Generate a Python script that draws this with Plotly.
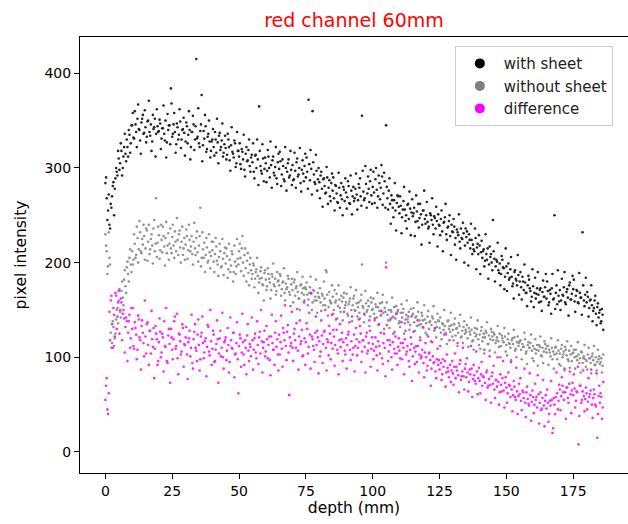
import numpy as np
import plotly.graph_objects as go

depth_step = 0.5
# pass A: samples at 0, 0.5, 1.0 ... mm
with_sheet = [
    284, 268, 255, 240, 262, 270, 285, 278, 300, 292,
    310, 305, 318, 300, 322, 315, 330, 312, 335, 326,
    345, 332, 360, 338, 352, 341, 329, 348, 356, 337,
    343, 333, 350, 338, 346, 328, 341, 352, 336, 344,
    339, 347, 331, 342, 336, 350, 327, 340, 345, 384,
    333, 346, 338, 325, 343, 335, 349, 330, 341, 337,
    328, 344, 335, 340, 322, 338, 346, 330, 415, 333,
    326, 339, 377, 324, 331, 344, 320, 336, 328, 318,
    330, 322, 338, 316, 327, 334, 319, 329, 312, 325,
    321, 314, 330, 308, 324, 317, 311, 326, 305, 318,
    312, 304, 320, 309, 298, 315, 307, 319, 302, 311,
    306, 296, 313, 300, 309, 365, 302, 294, 310, 299,
    305, 297, 312, 290, 303, 308, 295, 301, 289, 306,
    299, 307, 293, 302, 286, 300, 296, 309, 292, 298,
    303, 288, 297, 306, 291, 300, 284, 298, 294, 302,
    290, 296, 372, 287, 299, 360, 293, 283, 297, 288,
    285, 292, 278, 288, 281, 274, 290, 279, 270, 284,
    276, 268, 282, 273, 263, 279, 271, 267, 280, 265,
    274, 269, 281, 262, 276, 270, 265, 278, 272, 266,
    279, 270, 355, 275, 268, 283, 273, 278, 286, 271,
    280, 274, 288, 277, 270, 284, 279, 291, 273, 286,
    345, 268, 276, 262, 271, 258, 266, 255, 263, 270,
    252, 260, 248, 265, 256, 250, 261, 246, 257, 253,
    249, 258, 243, 254, 262, 247, 251, 240, 255, 246,
    250, 243, 238, 252, 245, 240, 249, 236, 244, 251,
    239, 246, 233, 242, 248, 230, 237, 244, 228, 240,
    232, 238, 226, 235, 229, 222, 236, 225, 231, 218,
    227, 221, 230, 215, 224, 219, 212, 226, 216, 209,
    218, 211, 205, 214, 202, 209, 215, 198, 206, 200,
    245, 204, 196, 201, 192, 199, 188, 203, 194, 185,
    196, 189, 182, 193, 185, 178, 190, 183, 176, 187,
    180, 174, 185, 171, 179, 168, 176, 182, 170, 164,
    175, 168, 162, 173, 166, 171, 159, 169, 164, 174,
    162, 170, 158, 167, 173, 161, 250, 168, 156, 165,
    171, 160, 166, 174, 158, 169, 163, 176, 161, 167,
    172, 159, 165, 170, 157, 168, 163, 232, 160, 166,
    158, 164, 152, 161, 155, 149, 160, 146, 153, 142,
    150, 138, 145,
]
without_sheet = [
    230, 212, 196, 205, 126, 115, 132, 120, 140, 152,
    160, 148, 170, 163, 182, 175, 195, 188, 205, 198,
    212, 203, 220, 208, 226, 214, 232, 210, 219, 228,
    215, 234, 222, 209, 225, 218, 236, 212, 268, 221,
    229, 213, 224, 238, 217, 226, 210, 231, 220, 215,
    227, 218, 233, 212, 224, 230, 216, 222, 208, 226,
    219, 228, 213, 224, 217, 209, 222, 215, 226, 211,
    218, 258, 205, 214, 221, 208, 216, 202, 211, 207,
    213, 201, 209, 217, 198, 206, 212, 196, 204, 210,
    199, 207, 193, 203, 197, 209, 190, 201, 196, 204,
    212, 205, 215, 200, 208, 194, 202, 189, 198, 192,
    188, 197, 183, 193, 186, 179, 191, 184, 176, 189,
    182, 175, 188, 179, 171, 185, 177, 183, 170, 180,
    176, 186, 172, 180, 168, 178, 174, 183, 166, 177,
    171, 179, 165, 175, 169, 162, 176, 168, 173, 160,
    172, 166, 161, 174, 167, 158, 170, 164, 160, 168,
    163, 158, 167, 155, 162, 192, 166, 153, 160, 157,
    164, 150, 158, 167, 154, 161, 148, 159, 163, 152,
    158, 146, 156, 162, 150, 155, 165, 149, 157, 153,
    147, 160, 198, 152, 145, 157, 150, 154, 143, 158,
    151, 146, 156, 142, 153, 149, 144, 158, 147, 152,
    200, 145, 150, 139, 148, 143, 153, 141, 146, 150,
    138, 147, 142, 151, 136, 145, 140, 148, 134, 143,
    146, 137, 142, 133, 148, 139, 135, 144, 131, 140,
    136, 143, 130, 138, 134, 141, 128, 137, 132, 139,
    131, 126, 136, 129, 133, 124, 138, 130, 127, 134,
    129, 135, 123, 131, 126, 133, 121, 128, 132, 125,
    127, 120, 131, 124, 129, 118, 126, 122, 130, 119,
    124, 128, 117, 125, 121, 126, 114, 123, 119, 127,
    118, 124, 115, 121, 117, 125, 112, 120, 116, 122,
    113, 119, 115, 110, 118, 114, 121, 109, 116, 112,
    117, 108, 114, 111, 119, 106, 113, 110, 115, 107,
    112, 109, 104, 113, 107, 111, 102, 110, 106, 114,
    105, 112, 108, 101, 110, 106, 103, 111, 98, 107,
    104, 109, 100, 106, 111, 102, 98, 107, 103, 96,
    105, 100, 108, 97, 103, 99, 106, 94, 101, 98,
    96, 103, 99, 94, 101, 97, 92, 100, 95, 98,
    93, 99, 91,
]
difference = [
    55, 78, 40, 148, 160, 135, 152, 122, 165, 143,
    170, 150, 158, 146, 141, 132, 138, 126, 145, 120,
    130, 112, 137, 124, 108, 140, 118, 133, 126, 101,
    122, 135, 113, 128, 104, 119, 131, 109, 125, 92,
    116, 127, 105, 121, 138, 111, 96, 123, 114, 130,
    108, 119, 143, 112, 99, 125, 117, 106, 131, 114,
    121, 103, 116, 128, 110, 94, 119, 135, 107, 124,
    113, 98, 126, 115, 105, 120, 111, 132, 102, 117,
    109, 124, 96, 114, 119, 104, 128, 110, 100, 116,
    121, 107, 113, 95, 118, 109, 126, 103, 115, 98,
    112, 120, 105, 116, 92, 110, 123, 107, 114, 101,
    118, 108, 125, 99, 113, 121, 104, 117, 110, 128,
    106, 119, 113, 97, 122, 115, 108, 126, 111, 103,
    124, 116, 109, 131, 118, 112, 127, 105, 121, 115,
    110, 125, 118, 136, 107, 122, 114, 129, 102, 120,
    116, 130, 111, 124, 168, 119, 108, 126, 113, 121,
    117, 106, 123, 114, 128, 110, 119, 102, 125, 115,
    109, 122, 113, 129, 104, 118, 111, 126, 116, 107,
    120, 113, 127, 108, 117, 103, 124, 112, 119, 110,
    116, 125, 106, 118, 111, 122, 104, 115, 128, 109,
    114, 107, 121, 102, 117, 112, 126, 99, 115, 110,
    195, 118, 106, 113, 100, 116, 109, 122, 104, 111,
    107, 115, 98, 110, 119, 103, 112, 96, 108, 114,
    101, 110, 106, 95, 112, 103, 99, 108, 94, 105,
    100, 91, 104, 97, 88, 101, 95, 85, 98, 92,
    87, 94, 82, 90, 96, 84, 89, 79, 92, 86,
    83, 90, 78, 86, 81, 93, 76, 85, 80, 88,
    79, 84, 74, 82, 88, 77, 81, 72, 85, 78,
    75, 82, 70, 79, 73, 84, 68, 77, 71, 80,
    72, 66, 76, 69, 74, 63, 71, 78, 65, 73,
    68, 62, 71, 58, 66, 60, 69, 55, 64, 59,
    61, 54, 65, 57, 52, 63, 56, 49, 60, 53,
    58, 50, 55, 47, 61, 52, 44, 57, 49, 54,
    46, 52, 40, 49, 55, 25, 50, 58, 62, 54,
    66, 59, 70, 55, 63, 68, 57, 72, 61, 65,
    60, 67, 54, 63, 8, 70, 52, 64, 59, 56,
    62, 53, 58, 65, 50, 57, 61, 48, 15, 59,
    52, 58, 47,
]
# pass B: samples at 0.25, 0.75, 1.25 ... mm
with_sheet_b = [
    290, 245, 272, 236, 258, 281, 250, 289, 296, 318,
    298, 326, 292, 312, 336, 307, 322, 340, 316, 345,
    358, 331, 346, 322, 367, 340, 315, 352, 336, 361,
    327, 349, 371, 334, 318, 356, 343, 312, 362, 338,
    351, 320, 342, 366, 329, 311, 357, 345, 325, 368,
    336, 358, 316, 347, 330, 362, 321, 340, 353, 313,
    348, 326, 360, 309, 338, 355, 319, 344, 331, 363,
    322, 346, 307, 339, 356, 317, 333, 350, 311, 328,
    341, 313, 330, 352, 305, 337, 322, 347, 316, 334,
    309, 336, 322, 297, 343, 315, 329, 301, 338, 318,
    326, 299, 317, 335, 291, 322, 308, 330, 296, 314,
    326, 289, 314, 330, 282, 318, 297, 325, 286, 311,
    285, 319, 300, 328, 279, 312, 292, 322, 283, 315,
    317, 281, 309, 288, 322, 276, 305, 290, 318, 282,
    287, 316, 279, 310, 293, 321, 275, 308, 286, 315,
    311, 278, 304, 319, 272, 306, 285, 314, 276, 300,
    268, 296, 259, 289, 273, 301, 262, 287, 265, 294,
    290, 255, 281, 264, 295, 258, 284, 250, 277, 289,
    257, 286, 263, 292, 251, 280, 268, 294, 256, 283,
    289, 260, 297, 266, 302, 258, 291, 264, 298, 262,
    296, 263, 300, 258, 292, 267, 303, 261, 295, 258,
    280, 256, 289, 241, 266, 248, 284, 234, 271, 259,
    270, 231, 256, 280, 244, 236, 262, 275, 229, 267,
    252, 228, 271, 244, 237, 262, 219, 255, 276, 241,
    264, 236, 221, 250, 268, 230, 247, 259, 217, 240,
    229, 255, 212, 243, 262, 224, 238, 250, 208, 233,
    246, 219, 203, 232, 251, 215, 226, 242, 200, 236,
    233, 197, 224, 241, 209, 214, 236, 193, 220, 229,
    188, 223, 212, 196, 230, 203, 183, 217, 209, 192,
    212, 180, 203, 221, 189, 176, 207, 195, 172, 215,
    170, 199, 184, 206, 175, 162, 192, 181, 208, 166,
    190, 161, 180, 198, 168, 154, 186, 173, 159, 193,
    153, 184, 167, 190, 158, 173, 149, 181, 164, 188,
    180, 155, 171, 146, 188, 162, 151, 176, 192, 159,
    150, 183, 165, 190, 156, 172, 144, 179, 161, 186,
    182, 148, 171, 158, 189, 163, 145, 176, 154, 184,
    169, 143, 160, 176, 138, 152, 165, 134, 157, 147,
    136, 151, 129,
]
without_sheet_b = [
    218, 188, 232, 198, 110, 138, 112, 125, 150, 136,
    172, 142, 180, 155, 192, 168, 201, 180, 214, 190,
    198, 230, 205, 238, 200, 244, 212, 225, 240, 203,
    236, 202, 240, 214, 230, 199, 245, 220, 206, 238,
    204, 240, 211, 228, 197, 243, 218, 203, 236, 210,
    240, 205, 222, 247, 208, 234, 200, 238, 215, 203,
    235, 204, 240, 212, 228, 198, 242, 208, 233, 201,
    228, 196, 232, 205, 190, 226, 200, 230, 194, 222,
    222, 190, 226, 202, 186, 220, 195, 225, 187, 216,
    215, 184, 220, 190, 212, 180, 218, 188, 225, 198,
    220, 191, 228, 186, 215, 180, 210, 176, 205, 183,
    199, 174, 190, 205, 168, 183, 195, 177, 160, 192,
    171, 194, 183, 162, 188, 199, 175, 166, 190, 181,
    188, 165, 179, 194, 160, 172, 186, 169, 154, 183,
    158, 182, 173, 190, 162, 150, 177, 185, 166, 174,
    179, 155, 168, 185, 150, 171, 160, 182, 147, 164,
    173, 149, 165, 180, 155, 190, 144, 169, 158, 176,
    146, 171, 160, 141, 176, 152, 165, 139, 168, 155,
    167, 144, 159, 174, 138, 162, 150, 171, 143, 158,
    141, 166, 154, 137, 170, 148, 160, 133, 163, 150,
    162, 139, 153, 168, 134, 157, 145, 166, 130, 148,
    158, 139, 131, 150, 163, 142, 127, 154, 148, 136,
    132, 156, 147, 125, 140, 160, 137, 129, 151, 144,
    152, 128, 143, 158, 134, 121, 147, 139, 155, 126,
    124, 149, 137, 117, 143, 154, 130, 121, 146, 138,
    142, 119, 135, 150, 126, 114, 139, 133, 147, 122,
    118, 141, 130, 112, 136, 145, 122, 115, 138, 129,
    134, 111, 127, 142, 117, 108, 131, 124, 139, 113,
    109, 132, 121, 104, 128, 137, 114, 107, 130, 122,
    126, 105, 118, 133, 111, 100, 123, 117, 131, 106,
    102, 125, 114, 97, 120, 129, 107, 100, 122, 115,
    118, 98, 111, 126, 104, 93, 116, 110, 124, 99,
    96, 119, 108, 91, 113, 122, 101, 94, 117, 109,
    112, 92, 105, 120, 98, 88, 110, 104, 118, 93,
    91, 113, 103, 86, 108, 117, 96, 89, 112, 104,
    108, 88, 101, 116, 94, 84, 105, 99, 113, 90,
    87, 110, 99, 83, 104, 112, 92, 86, 108, 101,
    95, 84, 103,
]
difference_b = [
    70, 45, 62, 118, 165, 110, 145, 168, 130, 158,
    125, 162, 118, 150, 105, 142, 96, 138, 110, 152,
    152, 109, 131, 98, 144, 121, 87, 139, 115, 160,
    104, 137, 92, 128, 149, 111, 78, 133, 119, 96,
    141, 100, 125, 85, 112, 152, 94, 130, 73, 121,
    98, 138, 109, 146, 82, 124, 103, 135, 90, 113,
    132, 77, 120, 101, 145, 88, 127, 110, 96, 140,
    86, 122, 143, 99, 117, 80, 134, 106, 150, 92,
    128, 95, 108, 139, 73, 120, 101, 147, 88, 118,
    97, 131, 84, 142, 110, 126, 79, 104, 137, 62,
    124, 90, 146, 103, 118, 82, 135, 96, 111, 142,
    87, 120, 105, 138, 93, 127, 150, 84, 116, 101,
    133, 99, 122, 81, 145, 108, 92, 138, 119, 86,
    103, 144, 90, 126, 155, 97, 134, 60, 112, 148,
    96, 130, 110, 151, 87, 139, 117, 101, 158, 92,
    136, 104, 147, 88, 122, 112, 95, 143, 128, 83,
    101, 139, 94, 127, 150, 86, 116, 133, 98, 145,
    129, 91, 140, 108, 82, 135, 119, 96, 148, 103,
    88, 124, 137, 97, 143, 110, 85, 131, 102, 140,
    133, 95, 118, 146, 84, 126, 107, 139, 90, 121,
    98, 141, 111, 86, 135, 104, 149, 93, 125, 80,
    134, 96, 118, 141, 87, 125, 104, 146, 92, 120,
    99, 137, 115, 82, 128, 106, 143, 90, 121, 75,
    127, 93, 112, 139, 84, 118, 101, 132, 79, 115,
    86, 122, 105, 70, 116, 94, 131, 78, 109, 97,
    112, 76, 98, 124, 69, 103, 85, 118, 74, 96,
    71, 104, 90, 115, 63, 97, 80, 110, 66, 93,
    99, 64, 87, 112, 58, 92, 75, 106, 61, 89,
    62, 95, 80, 108, 55, 86, 70, 101, 52, 84,
    91, 57, 76, 100, 50, 82, 64, 96, 47, 79,
    52, 84, 70, 95, 43, 75, 58, 89, 40, 72,
    78, 44, 63, 88, 37, 69, 51, 83, 33, 65,
    41, 72, 58, 81, 30, 63, 46, 76, 27, 60,
    66, 32, 54, 75, 20, 57, 40, 84, 45, 71,
    44, 79, 63, 88, 35, 68, 52, 85, 41, 73,
    82, 47, 64, 90, 38, 70, 55, 86, 43, 68,
    45, 78, 61, 87, 36, 66, 50, 83, 40, 70,
    62, 35, 74,
]

series = [
    ("with sheet", with_sheet, with_sheet_b, "black"),
    ("without sheet", without_sheet, without_sheet_b, "#808080"),
    ("difference", difference, difference_b, "#ff00ff"),
]

fig = go.Figure()
for name, va, vb, col in series:
    xa = np.arange(len(va)) * depth_step
    xb = np.arange(len(vb)) * depth_step + depth_step / 2
    xs = np.concatenate([xa, xb])
    ys = np.concatenate([np.array(va, float), np.array(vb, float)])
    fig.add_trace(go.Scatter(x=xs, y=ys, mode="markers", name=name,
                             marker=dict(color=col, size=2.6, line=dict(width=0)),
                             opacity=0.85, showlegend=False))
for name, va, vb, col in series:
    fig.add_trace(go.Scatter(x=[None], y=[None], mode="markers", name=name,
                             marker=dict(color=col, size=10, line=dict(width=0))))

fig.update_layout(
    width=628, height=524,
    margin=dict(l=80, r=0, t=37, b=51),
    paper_bgcolor="white", plot_bgcolor="white",
    font=dict(family="DejaVu Sans", size=14, color="black"),
    title=dict(text="red channel 60mm", x=0.5, xref="paper", xanchor="center",
               y=1 - 20 / 524, yref="container", yanchor="middle",
               font=dict(family="DejaVu Sans", size=19, color="red")),
    legend=dict(x=0.684, y=0.979, xanchor="left", yanchor="top",
                bordercolor="#cccccc", borderwidth=1, bgcolor="rgba(255,255,255,0.8)",
                font=dict(family="DejaVu Sans", size=15, color="#222222"),
                itemwidth=38, tracegroupgap=0),
)
fig.update_xaxes(range=[-9.5, 195.5], tickvals=[0, 25, 50, 75, 100, 125, 150, 175],
                 showgrid=False, zeroline=False, showline=True, mirror=True,
                 linecolor="black", linewidth=1, ticks="outside", ticklen=5,
                 tickcolor="black",
                 title=dict(text="depth (mm)", standoff=4, font=dict(size=15.5)),
                 tickfont=dict(size=14))
fig.update_yaxes(range=[-22.2, 438.3], tickvals=[0, 100, 200, 300, 400],
                 showgrid=False, zeroline=False, showline=True, mirror=True,
                 linecolor="black", linewidth=1, ticks="outside", ticklen=5,
                 tickcolor="black",
                 title=dict(text="pixel intensity", standoff=14, font=dict(size=15.5)),
                 tickfont=dict(size=14))

fig.write_html("out.html")
